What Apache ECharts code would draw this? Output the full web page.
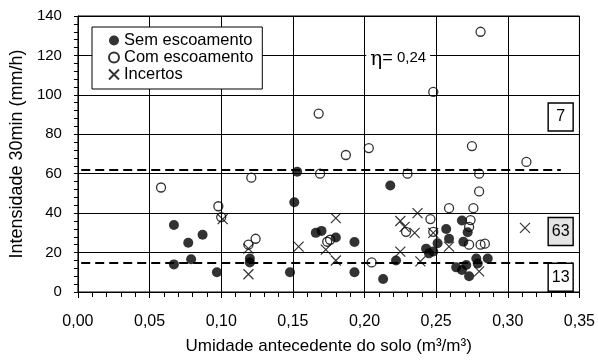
<!DOCTYPE html>
<html>
<head>
<meta charset="utf-8">
<script src="https://cdn.jsdelivr.net/npm/echarts@6/dist/echarts.min.js"></script>
<style>
  html, body { margin: 0; padding: 0; background: #fff; }
  #chart { width: 598px; height: 360px; }
</style>
</head>
<body>
<div id="chart"></div>
<script>
// Rótulos dos eixos
const xTickLabels = ['0,00', '0,05', '0,10', '0,15', '0,20', '0,25', '0,30', '0,35'];
const yTickLabels = ['0', '20', '40', '60', '80', '100', '120', '140'];

// Eventos sem escoamento: [umidade (m3/m3), intensidade 30 min (mm/h)]
const semEscoamento = [
  [0.067, 34], [0.077, 25], [0.087, 29], [0.067, 14], [0.079, 16.6], [0.097, 10],
  [0.120, 17], [0.120, 15], [0.148, 10], [0.151, 45.5], [0.153, 61],
  [0.166, 30], [0.170, 31], [0.180, 27.6], [0.193, 25.4], [0.193, 10],
  [0.213, 6.6], [0.218, 54], [0.222, 16], [0.243, 22], [0.245, 19.6],
  [0.248, 20.5], [0.251, 24.7], [0.257, 32], [0.259, 27], [0.264, 12.5],
  [0.268, 36.3], [0.268, 11.2], [0.271, 13.7], [0.269, 25.5], [0.272, 30.3],
  [0.273, 8], [0.278, 17], [0.279, 14.5], [0.286, 17]
];

// Eventos com escoamento
const comEscoamento = [
  [0.058, 53], [0.098, 43.5], [0.100, 38], [0.119, 24], [0.124, 27], [0.121, 58],
  [0.168, 90.5], [0.169, 60], [0.174, 25.5], [0.176, 26.5], [0.187, 69.5],
  [0.203, 73], [0.205, 15], [0.229, 30.5], [0.230, 60], [0.246, 37],
  [0.248, 30.5], [0.248, 101.5], [0.259, 42.5], [0.273, 33], [0.273, 24],
  [0.274, 36.5], [0.276, 42.5], [0.275, 74], [0.280, 60], [0.280, 51],
  [0.281, 132], [0.281, 24], [0.284, 24.5], [0.313, 66]
];

// Eventos incertos
const incertos = [
  [0.101, 37], [0.119, 9], [0.119, 22], [0.154, 23], [0.173, 21.5],
  [0.180, 37.5], [0.180, 16], [0.225, 36], [0.225, 20.5], [0.228, 33],
  [0.237, 40], [0.235, 30], [0.239, 15.5], [0.248, 30], [0.259, 23],
  [0.280, 10.5], [0.312, 32.5]
];

// Limiares de intensidade (mm/h)
const limiares = [62, 15];
// Número de eventos em cada faixa (acima, entre, abaixo dos limiares)
const contagens = ['7', '63', '13'];
const eta = '0,24';

const FONT = "'Liberation Sans', Arial, sans-serif";

const chart = echarts.init(document.getElementById('chart'), null, { renderer: 'canvas' });

const dashStyle = { color: '#000', width: 2, type: [9, 5] };
const boxStyle = { color: '#fff', borderColor: '#000', borderWidth: 1.5 };
const boxLabel = { show: true, position: 'inside', color: '#000', fontSize: 16, fontFamily: FONT };

chart.setOption({
  animation: false,
  textStyle: { fontFamily: FONT, color: '#000' },
  grid: {
    left: 75, right: 16, top: 16, bottom: 68,
    show: true, borderColor: '#000', borderWidth: 1, backgroundColor: 'transparent'
  },
  legend: {
    orient: 'vertical',
    left: 92, top: 27,
    backgroundColor: '#fff',
    borderColor: '#000', borderWidth: 1,
    padding: [5, 9, 6, 16],
    itemGap: 0,
    itemWidth: 10, itemHeight: 10,
    textStyle: { fontSize: 16.5, color: '#000', fontFamily: FONT, lineHeight: 17 },
    data: ['Sem escoamento', 'Com escoamento', 'Incertos']
  },
  xAxis: {
    type: 'value',
    min: 0, max: 0.35, interval: 0.05,
    name: 'Umidade antecedente do solo (m³/m³)',
    nameLocation: 'middle',
    nameGap: 46,
    nameTextStyle: { fontSize: 17, color: '#000', fontFamily: FONT },
    axisLine: { show: true, lineStyle: { color: '#000', width: 1 } },
    axisTick: { show: true, length: 6, lineStyle: { color: '#000' } },
    minorTick: { show: true, splitNumber: 5, length: 5, lineStyle: { color: '#000' } },
    axisLabel: {
      fontSize: 16, color: '#000', margin: 22, fontFamily: FONT,
      formatter: v => xTickLabels[Math.round(v / 0.05)]
    },
    splitLine: { show: true, lineStyle: { color: '#000', width: 1 } }
  },
  yAxis: {
    type: 'value',
    min: 0, max: 140, interval: 20,
    name: 'Intensidade 30min (mm/h)',
    nameLocation: 'middle',
    nameGap: 48,
    nameTextStyle: { fontSize: 18, color: '#000', fontFamily: FONT },
    axisLine: { show: true, lineStyle: { color: '#000', width: 1 } },
    axisTick: { show: true, length: 4, lineStyle: { color: '#000' } },
    minorTick: { show: true, splitNumber: 5, length: 4, lineStyle: { color: '#000' } },
    axisLabel: {
      fontSize: 15, color: '#000', margin: 16, fontFamily: FONT,
      formatter: v => yTickLabels[Math.round(v / 20)]
    },
    splitLine: { show: true, lineStyle: { color: '#000', width: 1 } }
  },
  series: [
    {
      name: 'Sem escoamento',
      type: 'scatter',
      symbol: 'circle',
      symbolSize: 10,
      itemStyle: { color: '#000' },
      data: semEscoamento,
      z: 3,
      markLine: {
        silent: true,
        symbol: 'none',
        label: { show: false },
        lineStyle: dashStyle,
        data: [
          [{ coord: [0.0023, limiares[0]] }, { coord: [0.337, limiares[0]] }],
          [{ coord: [0.0023, limiares[1]] }, { coord: [0.345, limiares[1]] }]
        ]
      }
    },
    {
      name: 'Com escoamento',
      type: 'scatter',
      symbol: 'circle',
      symbolSize: 9,
      itemStyle: { color: 'transparent', borderColor: '#000', borderWidth: 1.3 },
      data: comEscoamento,
      z: 3
    },
    {
      name: 'Incertos',
      type: 'scatter',
      symbol: 'path://M0,0L10,10M10,0L0,10',
      symbolSize: 10,
      itemStyle: { color: 'transparent', borderColor: '#000', borderWidth: 1.2 },
      data: incertos,
      z: 3,
      markPoint: {
        silent: true,
        data: [
          {
            coord: [0.3369, 88.8], symbol: 'rect', symbolSize: [25, 28],
            itemStyle: boxStyle, label: Object.assign({ formatter: contagens[0] }, boxLabel)
          },
          {
            coord: [0.3369, 30.7], symbol: 'rect', symbolSize: [25, 28],
            itemStyle: Object.assign({}, boxStyle, { color: '#e4e4e4' }),
            label: Object.assign({ formatter: contagens[1] }, boxLabel)
          },
          {
            coord: [0.3369, 7.5], symbol: 'rect', symbolSize: [25, 28],
            itemStyle: boxStyle, label: Object.assign({ formatter: contagens[2] }, boxLabel)
          },
          {
            coord: [0.2235, 119], symbol: 'rect', symbolSize: 0,
            itemStyle: { color: 'transparent' },
            label: {
              show: true, position: 'inside',
              backgroundColor: '#fff', padding: [1, 4],
              formatter: '{a|η}{b|=}{c| ' + eta + '}',
              rich: {
                a: { fontSize: 20, fontFamily: "'DejaVu Serif', serif", color: '#000', padding: [4, 0, 0, 0] },
                b: { fontSize: 18, fontFamily: FONT, color: '#000', padding: [2, 0, 0, 0] },
                c: { fontSize: 15, fontFamily: FONT, color: '#000' }
              }
            }
          }
        ]
      }
    }
  ]
});
</script>
</body>
</html>
